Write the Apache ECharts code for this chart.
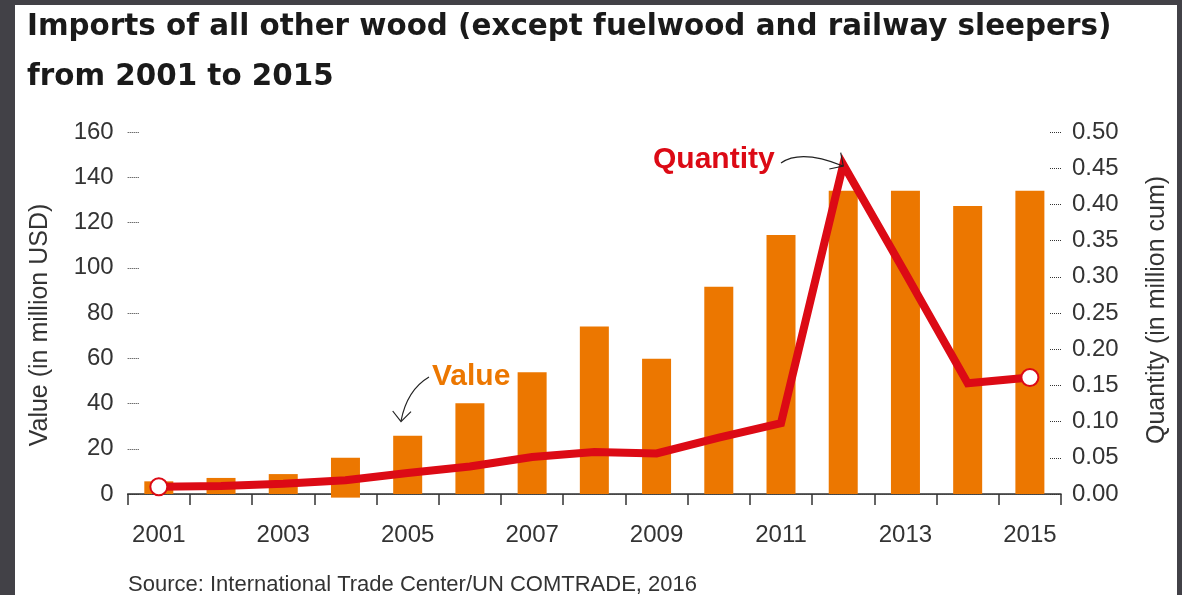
<!DOCTYPE html>
<html>
<head>
<meta charset="utf-8">
<script src="https://cdn.jsdelivr.net/npm/echarts@6/dist/echarts.min.js"></script>
<style>
  html, body { margin: 0; padding: 0; background: #424147; }
  #chart { width: 1182px; height: 595px; }
</style>
</head>
<body>
<div id="chart"></div>
<script>
var years = ['2001','2002','2003','2004','2005','2006','2007','2008','2009','2010','2011','2012','2013','2014','2015'];
var valueUSD = [5.6, 7.1, 8.8, 16.0, 25.8, 40.1, 53.8, 74.0, 59.8, 91.6, 114.5, 134.0, 134.0, 127.3, 134.0];
var valueBelowZero = [0, 0, 0, -1.6, 0, 0, 0, 0, 0, 0, 0, 0, 0, 0, 0];
var quantityCum = [0.010, 0.011, 0.014, 0.019, 0.029, 0.038, 0.051, 0.058, 0.056, 0.078, 0.098, 0.455, 0.305, 0.153, 0.161];
var leftTicks = { min: 0, max: 160, interval: 20 };
var rightTicks = { min: 0, max: 0.5, interval: 0.05 };

var FONT = '"Liberation Sans", Arial, sans-serif';
var TITLE_FONT = '"DejaVu Sans", "Liberation Sans", sans-serif';
var ORANGE = '#EC7700';
var RED = '#DC0A15';
var lastIdx = years.length - 1;

var chart = echarts.init(document.getElementById('chart'));
chart.setOption({
  backgroundColor: 'transparent',
  animation: false,
  title: {
    text: 'Imports of all other wood (except fuelwood and railway sleepers)\nfrom 2001 to 2015',
    left: 22, top: -3,
    textStyle: { fontFamily: TITLE_FONT, fontSize: 29.4, fontWeight: 'bold', color: '#1a1a1a', lineHeight: 50 }
  },
  grid: { left: 127.7, right: 121, top: 132, bottom: 101, containLabel: false },
  xAxis: [{
    type: 'category',
    data: years,
    boundaryGap: true,
    axisLine: { show: true, lineStyle: { color: '#333', width: 1.5 } },
    axisTick: { show: true, interval: 0, length: 11, lineStyle: { color: '#333', width: 1.5 } },
    axisLabel: { interval: 1, fontFamily: FONT, fontSize: 24, color: '#333', margin: 29 },
    splitLine: { show: false }
  }, {
    type: 'category',
    data: years,
    position: 'top',
    axisLine: { show: true, lineStyle: { color: '#444', width: 1, type: 'dotted' } },
    axisTick: { show: false },
    axisLabel: { show: false },
    splitLine: { show: false }
  }],
  yAxis: [{
    type: 'value',
    min: leftTicks.min, max: leftTicks.max, interval: leftTicks.interval,
    axisLine: { show: false },
    axisTick: { show: true, inside: true, length: 12, lineStyle: { color: '#333', type: 'dotted', width: 1 } },
    axisLabel: { fontFamily: FONT, fontSize: 24, color: '#333', margin: 14 },
    splitLine: { show: false }
  }, {
    type: 'value',
    position: 'right',
    min: rightTicks.min, max: rightTicks.max, interval: rightTicks.interval,
    axisLine: { show: false },
    axisTick: { show: true, inside: true, length: 12, lineStyle: { color: '#333', type: 'dotted', width: 1 } },
    axisLabel: { fontFamily: FONT, fontSize: 24, color: '#333', margin: 11,
      formatter: function (v) { return v.toFixed(2); } },
    splitLine: { show: false }
  }],
  series: [{
    type: 'bar',
    name: 'Value',
    stack: 'v',
    data: valueUSD,
    barWidth: 29,
    clip: false,
    itemStyle: { color: ORANGE },
    z: 2
  }, {
    type: 'bar',
    name: 'ValueBelow',
    stack: 'v',
    data: valueBelowZero,
    barWidth: 29,
    clip: false,
    itemStyle: { color: ORANGE },
    z: 2
  }, {
    type: 'line',
    name: 'Quantity',
    yAxisIndex: 1,
    data: quantityCum,
    smooth: false,
    lineStyle: { color: RED, width: 8, join: 'miter', miterLimit: 20 },
    symbol: function (v, p) { return (p.dataIndex === 0 || p.dataIndex === lastIdx) ? 'circle' : 'none'; },
    symbolSize: 17,
    showAllSymbol: true,
    itemStyle: { color: '#fff', borderColor: RED, borderWidth: 2 },
    z: 5
  }],
  graphic: [
    { type: 'rect', shape: { x: 15, y: 5, width: 1162, height: 590 }, style: { fill: '#fff' }, z: -10, silent: true },
    { type: 'text', x: 40, y: 325, rotation: Math.PI / 2,
      style: { text: 'Value (in million USD)', font: '25px ' + FONT, fill: '#333', textAlign: 'center', textVerticalAlign: 'middle' } },
    { type: 'text', x: 1157, y: 310, rotation: Math.PI / 2,
      style: { text: 'Quantity (in million cum)', font: '25px ' + FONT, fill: '#333', textAlign: 'center', textVerticalAlign: 'middle' } },
    { type: 'text', x: 128, y: 585,
      style: { text: 'Source: International Trade Center/UN COMTRADE, 2016', font: '22px ' + FONT, fill: '#333', textAlign: 'left', textVerticalAlign: 'middle' } },
    { type: 'text', x: 432, y: 377, z: 10,
      style: { text: 'Value', font: 'bold 30px ' + FONT, fill: ORANGE, textAlign: 'left', textVerticalAlign: 'middle' } },
    { type: 'text', x: 653, y: 160, z: 10,
      style: { text: 'Quantity', font: 'bold 30px ' + FONT, fill: RED, textAlign: 'left', textVerticalAlign: 'middle' } },
    { type: 'bezierCurve', z: 10, shape: { x1: 429, y1: 377, x2: 401, y2: 421, cpx1: 407, cpy1: 390 },
      style: { stroke: '#222', lineWidth: 1.2, fill: null } },
    { type: 'polyline', z: 10, shape: { points: [[392.7, 411], [401, 421.7], [411, 411.7]] },
      style: { stroke: '#222', lineWidth: 1.2, fill: null } },
    { type: 'bezierCurve', z: 10, shape: { x1: 781, y1: 163, x2: 843, y2: 166, cpx1: 801, cpy1: 149 },
      style: { stroke: '#222', lineWidth: 1.2, fill: null } },
    { type: 'polyline', z: 10, shape: { points: [[840.7, 152.7], [843.3, 166], [829.3, 169]] },
      style: { stroke: '#222', lineWidth: 1.2, fill: null } }
  ]
});
</script>
</body>
</html>
